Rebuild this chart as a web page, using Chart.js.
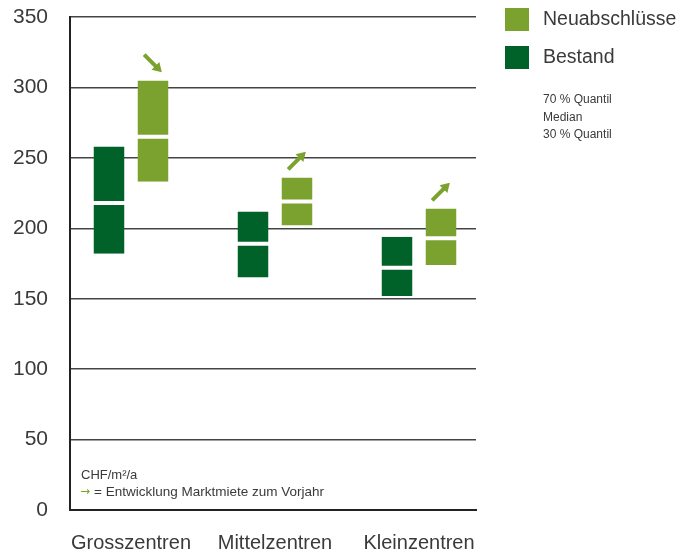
<!DOCTYPE html>
<html><head><meta charset="utf-8">
<script src="https://cdn.jsdelivr.net/npm/chart.js@4.4.1/dist/chart.umd.min.js"></script>
<style>html,body{margin:0;padding:0;background:#fff}#wrap{position:relative;width:687px;height:556px}</style>
</head><body><div id="wrap"><canvas id="c"></canvas></div>
<script>
const categories = ['Grosszentren', 'Mittelzentren', 'Kleinzentren'];
const bestandQ30 = [182, 165, 152];
const bestandMedian = [218, 189, 172];
const bestandQ70 = [258, 212, 194];
const neuQ30 = [233, 202, 174];
const neuMedian = [265, 219, 193];
const neuQ70 = [305, 236, 214];
const neuTrend = ['down', 'up', 'up'];
const yTicks = [0, 50, 100, 150, 200, 250, 300, 350];
const quantileNotes = ['70 % Quantil', 'Median', '30 % Quantil'];
const unitNote = 'CHF/m²/a';
const trendNote = '= Entwicklung Marktmiete zum Vorjahr';

const LIGHT = '#7ba22f', DARK = '#006228', TEXT = '#3a3a3a';
const FONT = "'Liberation Sans', Arial, sans-serif";

function seg(lo, hi) { return lo.map((v, i) => ({ x: i, y: [v, hi[i]] })); }

function part(label, role, color, lo, hi, stack, lower) {
  return {
    label, role, stack,
    data: seg(lo, hi),
    backgroundColor: color,
    borderColor: '#ffffff',
    borderWidth: lower ? { top: 2, bottom: 0, left: 0, right: 0 } : { top: 0, bottom: 2, left: 0, right: 0 },
    borderSkipped: false,
    categoryPercentage: 0.611,
    barPercentage: 0.7045
  };
}

const datasets = [
  part('Bestand', 'bestandLower', DARK, bestandQ30, bestandMedian, 'b', true),
  part('Bestand', 'bestandUpper', DARK, bestandMedian, bestandQ70, 'b', false),
  part('Neuabschlüsse', 'neuLower', LIGHT, neuQ30, neuMedian, 'n', true),
  part('Neuabschlüsse', 'neuUpper', LIGHT, neuMedian, neuQ70, 'n', false)
];

function drawArrow(ctx, cx, cy, ang, len, color) {
  ctx.save();
  ctx.translate(cx, cy);
  ctx.rotate(ang);
  ctx.fillStyle = color;
  ctx.strokeStyle = color;
  const head = 9;
  ctx.lineWidth = 4;
  ctx.beginPath();
  ctx.moveTo(-len / 2, 0);
  ctx.lineTo(len / 2 - head + 1, 0);
  ctx.stroke();
  ctx.beginPath();
  ctx.moveTo(len / 2, 0);
  ctx.lineTo(len / 2 - head, -5.5);
  ctx.lineTo(len / 2 - head, 5.5);
  ctx.closePath();
  ctx.fill();
  ctx.restore();
}

const decor = {
  id: 'decor',
  afterDatasetsDraw(chart) {
    const ctx = chart.ctx;
    const idx = chart.data.datasets.findIndex(d => d.role === 'neuUpper');
    const meta = chart.getDatasetMeta(idx);
    meta.data.forEach((el, i) => {
      const top = Math.min(el.y, el.base);
      const ang = neuTrend[i] === 'up' ? -Math.PI / 4 : Math.PI / 4;
      drawArrow(ctx, el.x, top - 17, ang, 25, LIGHT);
    });
  },
  afterDraw(chart) {
    const ctx = chart.ctx;
    const ca = chart.chartArea;
    ctx.save();
    const items = ['neuUpper', 'bestandUpper'].map(r => chart.data.datasets.find(d => d.role === r));
    items.forEach((d, k) => {
      const y = ca.top - 9 + k * 38;
      ctx.fillStyle = d.backgroundColor;
      ctx.fillRect(ca.right + 29, y, 24, 23);
      ctx.fillStyle = TEXT;
      ctx.font = '19.5px ' + FONT;
      ctx.textBaseline = 'middle';
      ctx.textAlign = 'left';
      ctx.fillText(d.label, ca.right + 67, y + 12);
    });
    ctx.font = '12px ' + FONT;
    quantileNotes.forEach((t, k) => {
      ctx.fillText(t, ca.right + 67, ca.top + 83 + k * 17.5);
    });
    ctx.font = '13px ' + FONT;
    ctx.fillStyle = TEXT;
    ctx.fillText(unitNote, ca.left + 11, ca.bottom - 35);
    ctx.fillStyle = LIGHT;
    ctx.font = "12px 'DejaVu Sans', sans-serif";
    ctx.fillText('→', ca.left + 10, ca.bottom - 18);
    ctx.fillStyle = TEXT;
    ctx.font = '13.5px ' + FONT;
    ctx.fillText(trendNote, ca.left + 24, ca.bottom - 18);
    ctx.restore();
  }
};

new Chart(document.getElementById('c'), {
  type: 'bar',
  data: { datasets },
  options: {
    responsive: true,
    maintainAspectRatio: false,
    animation: false,
    events: [],
    layout: { padding: { top: 0, right: 211, bottom: 0, left: 0 } },
    plugins: { legend: { display: false }, tooltip: { enabled: false }, title: { display: false } },
    scales: {
      x: {
        type: 'linear',
        bounds: 'data',
        offset: false,
        min: -0.4236,
        max: 2.3958,
        stacked: true,
        afterBuildTicks: s => { s.ticks = categories.map((_, i) => ({ value: i })); },
        afterFit: s => { s.height = 46; s.paddingLeft = 0; s.paddingRight = 0; },
        ticks: {
          callback: v => categories[v] ?? '',
          font: { family: FONT, size: 20 },
          color: TEXT,
          padding: 21,
          autoSkip: false,
          maxRotation: 0
        },
        grid: { display: false, drawTicks: false, offset: false },
        border: { display: true, color: '#222', width: 2 }
      },
      y: {
        min: 0,
        max: 350,
        stacked: false,
        afterBuildTicks: s => { s.ticks = yTicks.map(v => ({ value: v })); },
        afterFit: s => { s.width = 70; s.paddingTop = 17; s.paddingBottom = 0; },
        ticks: { font: { family: FONT, size: 21 }, color: TEXT, padding: 22 },
        grid: { color: '#444', lineWidth: 1.5, drawTicks: false },
        border: { display: true, color: '#222', width: 2 }
      }
    }
  },
  plugins: [decor]
});
</script>
</body></html>
